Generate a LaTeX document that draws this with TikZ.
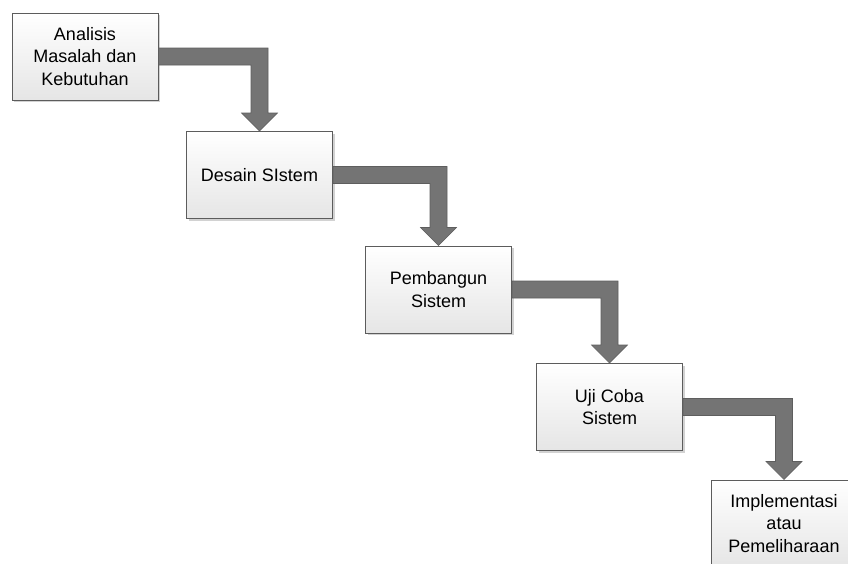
\documentclass[tikz,border=0pt]{standalone}
\usepackage{fontspec}
\setmainfont{Liberation Sans}
\usetikzlibrary{calc,shadows}
\definecolor{boxline}{HTML}{5C5C5C}
\definecolor{arrowfill}{HTML}{747474}
\definecolor{arrowline}{HTML}{5E5E5E}
\tikzset{
  stepbox/.style={draw=boxline, line width=1pt, top color=white, bottom color=black!10,
    minimum width=146pt, minimum height=87pt, inner sep=2pt, align=center,
    font=\fontsize{18}{22.5}\selectfont,
    drop shadow={shadow xshift=2pt, shadow yshift=-2pt, fill=black!35, opacity=0.5}},
  flow/.style={fill=arrowfill, draw=arrowline, line width=0.6pt, line join=miter}
}
\newcommand{\bigflow}[2]{%
  \draw[flow] ($(#1.east)+(0,8.5)$) -- ($(#2.north |- #1.east)+(8.5,8.5)$)
    -- ($(#2.north)+(8.5,18)$) -- ($(#2.north)+(18,18)$) -- (#2.north)
    -- ($(#2.north)+(-18,18)$) -- ($(#2.north)+(-8.5,18)$)
    -- ($(#2.north |- #1.east)+(-8.5,-8.5)$) -- ($(#1.east)+(0,-8.5)$) -- cycle;}
\begin{document}
\begin{tikzpicture}[x=1pt,y=1pt]
\clip (0,0) rectangle (848,-563);
\fill[white] (0,0) rectangle (848,-563);
\node[stepbox] (b1) at (85,-56.5) {Analisis\\Masalah dan\\Kebutuhan};
\node[stepbox] (b2) at (259.5,-175) {Desain SIstem};
\node[stepbox] (b3) at (438.5,-289.5) {Pembangun\\Sistem};
\node[stepbox] (b4) at (609.5,-407) {Uji Coba\\Sistem};
\node[stepbox] (b5) at (784,-523.5) {Implementasi\\atau\\Pemeliharaan};
\bigflow{b1}{b2}
\bigflow{b2}{b3}
\bigflow{b3}{b4}
\bigflow{b4}{b5}
\end{tikzpicture}
\end{document}
